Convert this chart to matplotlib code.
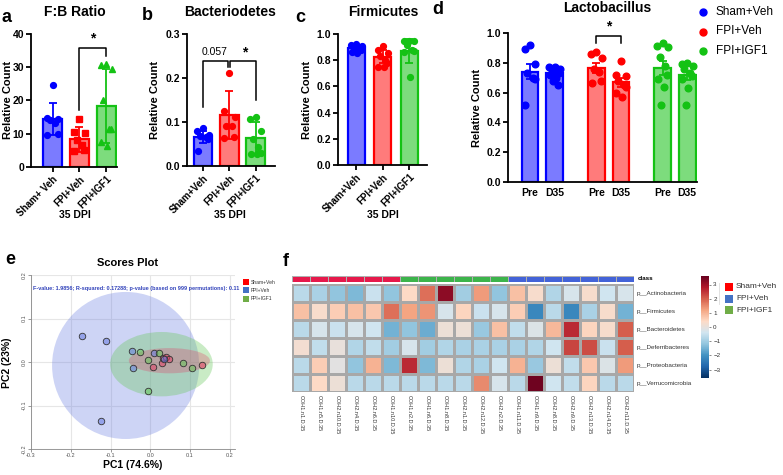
import numpy as np
import matplotlib
matplotlib.use('Agg')
import matplotlib.pyplot as plt
from matplotlib.patches import Ellipse, Rectangle
from matplotlib.colors import LinearSegmentedColormap, ListedColormap, Normalize
import matplotlib.colorbar as mcolorbar
from matplotlib.lines import Line2D

plt.rcParams['font.family'] = ['Liberation Sans', 'DejaVu Sans']

# ---------------- data ----------------
groups = ['Sham+Veh', 'FPI+Veh', 'FPI+IGF1']
labels_a = ['Sham+ Veh', 'FPI+Veh', 'FPI+IGF1']

fb_mean = [14.4, 8.3, 18.3]
fb_sd = [4.8, 3.7, 11.2]
fb_pts = [[24.8, 14.8, 14.5, 14.2, 13.3, 10.0, 9.7],
          [14.5, 10.5, 10.3, 8.0, 6.5, 5.0, 4.8],
          [31.0, 30.8, 29.5, 20.2, 11.5, 11.3, 7.5, 6.2]]

bac_mean = [0.066, 0.116, 0.063]
bac_sd = [0.014, 0.055, 0.036]
bac_pts = [[0.087, 0.080, 0.070, 0.068, 0.066, 0.061, 0.034],
           [0.212, 0.124, 0.112, 0.092, 0.090, 0.065, 0.063],
           [0.112, 0.107, 0.080, 0.061, 0.044, 0.030, 0.027, 0.027]]

fir_mean = [0.89, 0.825, 0.87]
fir_sd = [0.025, 0.05, 0.09]
fir_pts = [[0.92, 0.915, 0.91, 0.90, 0.89, 0.88, 0.86, 0.855],
           [0.905, 0.88, 0.855, 0.83, 0.80, 0.775, 0.75, 0.75],
           [0.95, 0.95, 0.945, 0.915, 0.875, 0.87, 0.865, 0.675]]

lac_labels = ['Pre', 'D35', 'Pre', 'D35', 'Pre', 'D35']
lac_mean = [0.74, 0.73, 0.765, 0.67, 0.765, 0.715]
lac_sem = [0.05, 0.015, 0.033, 0.03, 0.045, 0.03]
lac_pts = [[0.92, 0.89, 0.79, 0.73, 0.70, 0.69, 0.52],
           [0.77, 0.77, 0.76, 0.75, 0.74, 0.73, 0.72, 0.70, 0.68, 0.65],
           [0.875, 0.86, 0.83, 0.76, 0.74, 0.675, 0.665],
           [0.81, 0.72, 0.71, 0.68, 0.65, 0.64, 0.60, 0.57],
           [0.93, 0.91, 0.905, 0.84, 0.78, 0.72, 0.69, 0.64, 0.52],
           [0.80, 0.79, 0.78, 0.76, 0.73, 0.71, 0.69, 0.63, 0.52]]

# PCA scores
pc1_sham = [0.006, 0.030, 0.033, 0.040, 0.047, 0.129]
pc2_sham = [-0.011, -0.003, 0.010, 0.012, 0.007, -0.006]
pc1_fpi = [-0.173, -0.112, -0.045, -0.043, 0.010, 0.035, -0.125]
pc2_fpi = [0.060, 0.048, 0.025, -0.014, 0.020, 0.007, -0.135]
pc1_igf = [-0.026, -0.005, 0.022, 0.081, 0.105, -0.005]
pc2_igf = [0.023, 0.005, 0.020, -0.002, -0.014, -0.067]
ell_center = [(0.048, 0.003), (-0.062, -0.008), (0.028, -0.005)]   # sham, fpi, igf
ell_size = [(0.204, 0.058), (0.370, 0.338), (0.258, 0.148)]

# heatmap
phyla = ['p__Actinobacteria', 'p__Firmicutes', 'p__Bacteroidetes',
         'p__Deferribacteres', 'p__Proteobacteria', 'p__Verrucomicrobia']
samples = ['COH1.n1.D.35', 'COH1.n5.D.35', 'COH2.n10.D.35', 'COH2.n4.D.35', 'COH2.n6.D.35',
           'COH1.n10.D.35', 'COH1.n2.D.35', 'COH1.n6.D.35', 'COH1.n8.D.35', 'COH2.n1.D.35',
           'COH2.n12.D.35', 'COH2.n2.D.35', 'COH1.n11.D.35', 'COH1.n9.D.35', 'COH2.n8.D.35',
           'COH2.n9.D.35', 'COH2.n13.D.35', 'COH2.n14.D.35', 'COH2.n11.D.35']
sample_class = [0]*6 + [2]*6 + [1]*7
heat_vals = [
    [-0.7, -0.9, -1.2, -1.4, -0.5, -1.2, 0.4, 1.8, 3.2, -1.0, 1.3, -1.2, 0.8, 0.3, -0.8, -0.3, 0.3, -0.4, -0.3],
    [0.8, 0.3, 0.6, 0.8, 0.7, 1.8, 1.2, 1.4, -0.3, 0.5, -0.5, -0.3, 0.6, -2.2, -0.7, -2.2, -0.9, 0.3, -1.5],
    [-0.7, -0.3, -0.5, -0.3, -0.4, -1.5, -1.2, -1.6, 0.1, 0.1, -1.1, 0.8, -0.6, -0.2, 0.9, 2.6, 0.5, 0.3, 2.0],
    [0.2, -0.6, 0.0, -0.8, -0.6, -1.0, -0.3, -1.0, -0.8, -0.9, -0.9, -0.9, -0.9, -0.8, -0.4, 2.3, 2.2, -0.5, 2.0],
    [-0.7, 0.6, -0.1, -1.2, 1.0, -1.4, 2.6, -1.4, 0.1, -0.8, -0.9, -0.4, 1.0, -1.1, 0.1, -0.6, 0.7, -0.2, 1.3],
    [-0.7, 0.4, 0.1, -0.7, -0.7, -0.7, -0.7, -0.7, -0.7, -0.7, 1.5, -0.3, -0.7, 3.5, -0.4, -0.6, 0.5, -0.7, -0.7],
]

# ---------------- styling ----------------
W, H = 783, 475
edges = ['#0000ff', '#ff0000', '#14c214']
fills = ['#7b7bff', '#ff7b7b', '#7ddc7d']


def rect(l, t, r, b):
    return [l / W, 1 - b / H, (r - l) / W, (b - t) / H]


def ftext(x, y, s, **kw):
    fig.text(x / W, 1 - y / H, s, **kw)


def spread(vals, w):
    vals = np.asarray(vals)
    order = np.argsort(-vals)
    pattern = [0, -1, 1, -0.5, 0.5, 0.9, -0.9, 0.2, -0.3, 0.6]
    offs = np.zeros(len(vals))
    for rank, idx in enumerate(order):
        offs[idx] = pattern[rank % len(pattern)] * w
    return offs


def style_axes(ax):
    for s in ['top', 'right']:
        ax.spines[s].set_visible(False)
    for s in ['left', 'bottom']:
        ax.spines[s].set_linewidth(1.3)
    ax.tick_params(direction='out', length=3.5, width=1.3, pad=1.5)


fig = plt.figure(figsize=(W / 100, H / 100), dpi=100)


def bar_panel(r, means, sds, pts, markers, xlabels, ylim, yticks, ytl, xlim, width):
    ax = fig.add_axes(r)
    for i in range(3):
        ax.bar(i, means[i], width, color=fills[i], edgecolor=edges[i], linewidth=1.6, zorder=1)
        ax.errorbar(i, means[i], yerr=sds[i], fmt='none', ecolor=edges[i], capsize=3,
                    elinewidth=1.3, capthick=1.3, zorder=2)
        offs = spread(pts[i], width * 0.3)
        ax.plot(i + offs, pts[i], markers[i], color=edges[i], ms=4.2, mec=edges[i],
                zorder=3, clip_on=False, linestyle='none')
    ax.set_xlim(*xlim)
    ax.set_ylim(*ylim)
    ax.set_yticks(yticks)
    ax.set_yticklabels(ytl, fontsize=7.5, fontweight='bold')
    ax.set_xticks(range(3))
    ax.set_xticklabels(xlabels, rotation=45, ha='right', rotation_mode='anchor',
                       fontsize=7, fontweight='bold')
    style_axes(ax)
    return ax


# panel a
ax_a = bar_panel(rect(31, 34, 117, 167), fb_mean, fb_sd, fb_pts, ['o', 's', '^'], labels_a,
                 (0, 40), [0, 10, 20, 30, 40], ['0', '10', '20', '30', '40'], (-0.8, 2.4), 0.7)
ax_a.plot([1, 1, 2, 2], [17, 35.8, 35.8, 33.5], color='black', lw=1.1, clip_on=False)
ax_a.text(1.5, 36.5, '*', ha='center', va='bottom', fontsize=10, fontweight='bold')

# panel b
ax_b = bar_panel(rect(187, 34, 275, 166), bac_mean, bac_sd, bac_pts, ['o', 'o', 'o'], groups,
                 (0, 0.3), [0, 0.1, 0.2, 0.3], ['0.0', '0.1', '0.2', '0.3'], (-0.61, 2.74), 0.71)
ax_b.plot([0, 0, 0.96, 0.96], [0.133, 0.239, 0.239, 0.226], color='black', lw=1.1, clip_on=False)
ax_b.plot([1.04, 1.04, 2, 2], [0.226, 0.239, 0.239, 0.15], color='black', lw=1.1, clip_on=False)
ax_b.text(0.45, 0.247, '0.057', ha='center', va='bottom', fontsize=7.5)
ax_b.text(1.6, 0.243, '*', ha='center', va='bottom', fontsize=10, fontweight='bold')

# panel c
ax_c = bar_panel(rect(338, 34, 427, 165), fir_mean, fir_sd, fir_pts, ['o', 'o', 'o'], groups,
                 (0, 1.0), [0, 0.2, 0.4, 0.6, 0.8, 1.0], ['0.0', '0.2', '0.4', '0.6', '0.8', '1.0'],
                 (-0.70, 2.68), 0.65)

# panel d
ax_d = fig.add_axes(rect(508, 33, 697, 182))
xpos = []
for i in range(6):
    g = i // 2
    x = g * 2.7 + (i % 2)
    xpos.append(x)
    ax_d.bar(x, lac_mean[i], 0.68, color=fills[g], edgecolor=edges[g], linewidth=1.6, zorder=1)
    ax_d.errorbar(x, lac_mean[i], yerr=lac_sem[i], fmt='none', ecolor=edges[g], capsize=3,
                  elinewidth=1.3, capthick=1.3, zorder=2)
    offs = spread(lac_pts[i], 0.22)
    ax_d.plot(x + offs, lac_pts[i], 'o', color=edges[g], ms=4.8, zorder=3, linestyle='none')
ax_d.set_xlim(-0.9, 6.8)
ax_d.set_ylim(0, 1.0)
ax_d.set_yticks([0, 0.2, 0.4, 0.6, 0.8, 1.0])
ax_d.set_yticklabels(['0.0', '0.2', '0.4', '0.6', '0.8', '1.0'], fontsize=7.5, fontweight='bold')
ax_d.set_xticks(xpos)
ax_d.set_xticklabels(lac_labels, fontsize=7.5, fontweight='bold')
style_axes(ax_d)
ax_d.tick_params(axis='x', length=0, pad=4)
ax_d.plot([xpos[2], xpos[2], xpos[3], xpos[3]], [0.935, 0.98, 0.98, 0.935], color='black', lw=1.1,
          clip_on=False)
ax_d.text((xpos[2] + xpos[3]) / 2, 1.0, '*', ha='center', va='bottom', fontsize=10,
          fontweight='bold')

# legend for d
for i, g in enumerate(groups):
    fig.add_artist(Line2D([703 / W], [1 - (12 + 19.5 * i) / H], marker='o', color=edges[i],
                          ms=5, linestyle='none', transform=fig.transFigure))
    ftext(716, 12 + 19.5 * i, g, fontsize=8.5, va='center', ha='left')

# titles, labels
for x, s in [(75, 'F:B Ratio'), (230, 'Bacteriodetes'), (383, 'Firmicutes')]:
    ftext(x, 12, s, fontsize=10, fontweight='bold', ha='center', va='center')
    ftext(x, 215, '35 DPI', fontsize=7.5, fontweight='bold', ha='center', va='center')
ftext(607, 8, 'Lactobacillus', fontsize=10, fontweight='bold', ha='center', va='center')
for x, yc in [(8, 100), (155, 100), (307, 100), (477, 108)]:
    ftext(x, yc, 'Relative Count', fontsize=8, fontweight='bold', rotation=90,
          ha='center', va='center')
for x, y, s in [(7, 17, 'a'), (147, 16, 'b'), (300, 17, 'c'), (438, 10, 'd'),
                (10, 260, 'e'), (286, 262, 'f')]:
    ftext(x, y, s, fontsize=13, fontweight='bold', ha='center', va='center')

# ---------------- panel e ----------------
ax_e = fig.add_axes(rect(31, 275, 235, 449))
ecol = [(0.88, 0.25, 0.40), (0.40, 0.48, 0.88), (0.40, 0.78, 0.35)]
ell_alpha = [0.30, 0.32, 0.35]
for k in [1, 2, 0]:
    ax_e.add_patch(Ellipse(ell_center[k], ell_size[k][0], ell_size[k][1],
                           facecolor=ecol[k], alpha=ell_alpha[k], edgecolor='none', zorder=1))
for k, (px_, py_) in enumerate([(pc1_sham, pc2_sham), (pc1_fpi, pc2_fpi), (pc1_igf, pc2_igf)]):
    ax_e.scatter(px_, py_, s=22, facecolor=(*ecol[k], 0.55), edgecolor='#333333',
                 linewidth=0.6, zorder=3)
ax_e.set_xlim(-0.3, 0.213)
ax_e.set_ylim(-0.2, 0.2)
ax_e.set_xticks([-0.3, -0.2, -0.1, 0.0, 0.1, 0.2])
ax_e.set_xticklabels(['-0.3', '-0.2', '-0.1', '0.0', '0.1', '0.2'], fontsize=4, color='#555555')
ax_e.set_yticks([-0.2, -0.1, 0.0, 0.1, 0.2])
ax_e.set_yticklabels(['-0.2', '-0.1', '0.0', '0.1', '0.2'], fontsize=4, color='#555555',
                     rotation=90, va='center')
ax_e.grid(True, color='#e6e6e6', lw=0.8, zorder=0)
ax_e.set_axisbelow(True)
for s in ['top', 'right']:
    ax_e.spines[s].set_visible(False)
for s in ['left', 'bottom']:
    ax_e.spines[s].set_color('#888888')
    ax_e.spines[s].set_linewidth(0.6)
ax_e.tick_params(length=2, width=0.6, color='#888888', pad=1)
ax_e.text(0.01, 0.925, 'F-value: 1.9856; R-squared: 0.17288; p-value (based on 999 permutations): 0.11',
          transform=ax_e.transAxes, fontsize=4.0, fontweight='bold', color='#3344bb',
          ha='left', va='center')
ftext(128, 263, 'Scores Plot', fontsize=8, fontweight='bold', ha='center', va='center')
ftext(133, 465, 'PC1 (74.6%)', fontsize=7.5, fontweight='bold', ha='center', va='center')
ftext(7, 363, 'PC2 (23%)', fontsize=7.5, fontweight='bold', ha='center', va='center', rotation=90)
leg_e_cols = ['#ff0000', '#4472c4', '#70ad47']
for i, g in enumerate(groups):
    fig.add_artist(Rectangle(((243) / W, 1 - (285 + 8.3 * i) / H), 6 / W, 6 / H,
                             facecolor=leg_e_cols[i], edgecolor='none', transform=fig.transFigure))
    ftext(251, 282 + 8.3 * i, g, fontsize=3.6, va='center', ha='left', color='#333333')

# ---------------- panel f ----------------
rdbu = ['#053061', '#2166AC', '#4393C3', '#92C5DE', '#D1E5F0',
        '#FDDBC7', '#F4A582', '#D6604D', '#B2182B', '#67001F']
cmap = LinearSegmentedColormap.from_list('hm', rdbu, N=256)
norm = Normalize(-3.6, 3.6)

ax_cls = fig.add_axes(rect(292, 276, 634, 282))
cls_cmap = ListedColormap(['#e6194b', '#4363d8', '#3cb44b'])
ax_cls.pcolormesh(np.array([sample_class]), cmap=cls_cmap, vmin=-0.5, vmax=2.5,
                  edgecolors='#b0b0b0', linewidth=0.5)
ax_cls.set_xlim(0, len(samples))
ax_cls.axis('off')
ax_cls.text(1.01, 0.5, 'class', transform=ax_cls.transAxes, fontsize=4.5, fontweight='bold',
            ha='left', va='center')

ax_h = fig.add_axes(rect(292, 284, 634, 392))
hv = np.array(heat_vals)
ax_h.pcolormesh(hv, cmap=cmap, norm=norm, edgecolors='#a8a8a8', linewidth=0.8)
ax_h.set_xlim(0, len(samples))
ax_h.set_ylim(len(phyla), 0)
ax_h.set_xticks(np.arange(len(samples)) + 0.5)
ax_h.set_xticklabels(samples, rotation=-90, fontsize=4, color='#333333')
ax_h.set_yticks(np.arange(len(phyla)) + 0.5)
ax_h.set_yticklabels(phyla, fontsize=4.5, color='#333333')
ax_h.yaxis.tick_right()
ax_h.tick_params(length=0, pad=2)
for s in ax_h.spines.values():
    s.set_visible(False)

cax = fig.add_axes(rect(701, 276, 709, 378))
cb = mcolorbar.ColorbarBase(cax, cmap=cmap, norm=norm, ticks=[-3, -2, -1, 0, 1, 2, 3])
cb.outline.set_linewidth(0)
cax.tick_params(labelsize=4.5, length=1.5, width=0.4, pad=1.5, colors='#333333')

leg_f_cols = ['#ff0000', '#4472c4', '#70ad47']
for i, g in enumerate(groups):
    fig.add_artist(Rectangle((725 / W, 1 - (291 + 11.7 * i) / H), 8 / W, 8 / H,
                             facecolor=leg_f_cols[i], edgecolor='none', transform=fig.transFigure))
    ftext(736, 287 + 11.7 * i, g, fontsize=6, va='center', ha='left', color='#333333')
fig.add_artist(Line2D([719 / W, 719 / W], [1 - 283 / H, 1 - 304 / H], color='#dddddd', lw=0.6,
                      transform=fig.transFigure))

fig.savefig('out.png', dpi=100)
